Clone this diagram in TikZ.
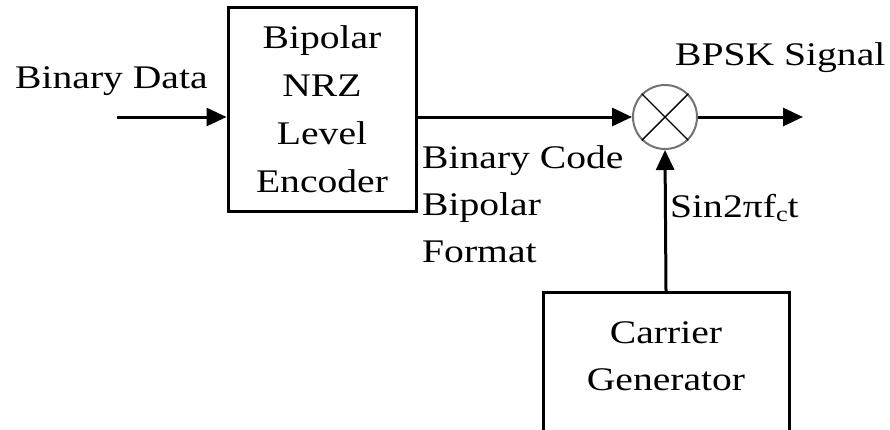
\documentclass[tikz,border=0pt]{standalone}
\usepackage{fontspec}
\setmainfont{Liberation Serif}[FakeStretch=1.2]
\usepackage{tikz}
\usetikzlibrary{arrows.meta,positioning,calc}

\begin{document}
\begin{tikzpicture}[x=1pt, y=-1pt,
		blockbox/.style={draw, line width=3pt, align=center, font=\fontsize{33}{48}\selectfont},
		sig/.style={line width=3pt, -{Triangle[length=20pt, width=18pt]}},
		lbl/.style={inner sep=0pt, font=\fontsize{33}{47}\selectfont}]
		\useasboundingbox (0,0) rectangle (890,429);
		% blocks
		\node[blockbox, minimum width=188pt, minimum height=204pt] (enc) at (322,109) {Bipolar\\NRZ\\Level\\Encoder};
		\node[draw=black!55, line width=2pt, circle, minimum size=64pt, inner sep=0pt] (mix) at (665,117) {};
		\draw[line width=1.4pt] (mix.north west) -- (mix.south east);
		\draw[line width=1.4pt] (mix.north east) -- (mix.south west);
		\node[blockbox, minimum width=246pt, minimum height=200pt, anchor=north] (carrier) at (666,291) {};
		\node[lbl, align=center] (cartext) at (666,356) {Carrier\\Generator};
		\coordinate (in) at (117,117);
		\coordinate (out) at (803,117);
		% connectors
		\draw[sig] (in) -- (enc.west |- in);
		\draw[sig] (enc.east |- mix.west) -- (mix.west);
		\draw[sig] (mix.east) -- (out);
		\draw[sig] (carrier.north) -- (mix.south);
		% labels
		\node[lbl, anchor=base west] (datalbl) at (15,88) {Binary Data};
		\node[lbl, anchor=base west] (outlbl) at (675,65) {BPSK Signal};
		\node[lbl, anchor=north west, align=left] (codelbl) at (422,145) {Binary Code\\Bipolar\\Format};
		\node[lbl, anchor=base west] (carlbl) at (670,217) {Sin2πf\raisebox{-0.3ex}{\fontsize{22}{22}\selectfont c}t};
	\end{tikzpicture}
\end{document}
